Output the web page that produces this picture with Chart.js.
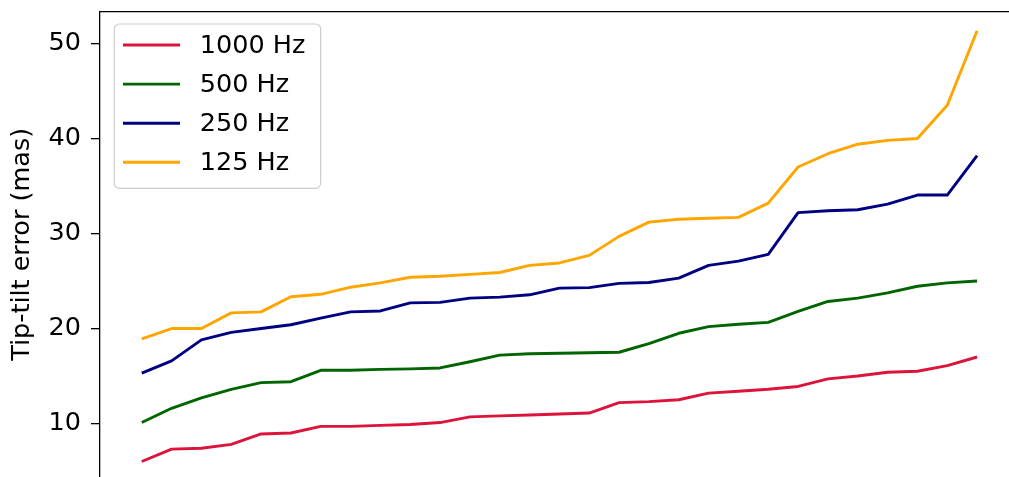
<!DOCTYPE html>
<html>
<head>
<meta charset="utf-8">
<script src="https://cdn.jsdelivr.net/npm/chart.js@4.4.0/dist/chart.umd.min.js"></script>
<style>
  html, body { margin: 0; padding: 0; background: #fff; overflow: hidden; }
  canvas { display: block; }
</style>
</head>
<body>
<canvas id="chart" width="1009" height="477"></canvas>
<script>
// Runs sorted by increasing tip-tilt error
const rank = [0, 1, 2, 3, 4, 5, 6, 7, 8, 9, 10, 11, 12, 13, 14, 15, 16, 17, 18, 19, 20, 21, 22, 23, 24, 25, 26, 27, 28];

const seriesLabels = ['1000 Hz', '500 Hz', '250 Hz', '125 Hz'];
const seriesColors = ['#dc143c', '#006400', '#000080', '#ffa500'];

// Tip-tilt error in mas for each loop rate
const err1000 = [6.0, 7.3, 7.4, 7.8, 8.9, 9.0, 9.7, 9.7, 9.8, 9.9, 10.1, 10.7, 10.8, 10.9, 11.0, 11.1, 12.2, 12.3, 12.5, 13.2, 13.4, 13.6, 13.9, 14.7, 15.0, 15.4, 15.5, 16.1, 17.0];
const err500  = [10.1, 11.6, 12.7, 13.6, 14.3, 14.4, 15.6, 15.6, 15.7, 15.75, 15.85, 16.5, 17.2, 17.35, 17.4, 17.45, 17.5, 18.4, 19.5, 20.2, 20.45, 20.65, 21.8, 22.85, 23.2, 23.75, 24.45, 24.8, 25.0];
const err250  = [15.3, 16.6, 18.8, 19.6, 20.0, 20.4, 21.1, 21.75, 21.85, 22.7, 22.75, 23.2, 23.3, 23.55, 24.25, 24.3, 24.75, 24.85, 25.3, 26.65, 27.1, 27.8, 32.2, 32.4, 32.5, 33.1, 34.05, 34.05, 38.2];
const err125  = [18.9, 20.0, 20.0, 21.65, 21.75, 23.35, 23.6, 24.35, 24.8, 25.4, 25.5, 25.7, 25.9, 26.65, 26.9, 27.7, 29.7, 31.2, 31.5, 31.6, 31.7, 33.2, 37.0, 38.4, 39.4, 39.8, 40.0, 43.5, 51.35];

const yTicks = [10, 20, 30, 40, 50];
const yTitle = 'Tip-tilt error (mas)';

const FONT = '"DejaVu Sans", "Liberation Sans", sans-serif';
const FONT_SIZE = 25.5;

const toPoints = (vals) => vals.map((v, i) => ({ x: rank[i], y: v }));
const allSeries = [err1000, err500, err250, err125];

// Legend box in the upper-left corner of the plot, plus the top frame line
const framedLegend = {
  id: 'framedLegend',
  afterDatasetsDraw(chart) {
    const { ctx, chartArea: a } = chart;
    ctx.save();
    // top spine
    ctx.beginPath();
    ctx.moveTo(a.left, a.top);
    ctx.lineTo(a.right, a.top);
    ctx.strokeStyle = '#000';
    ctx.lineWidth = 1.3;
    ctx.stroke();

    const x0 = a.left + 14.3, y0 = a.top + 12.3, w = 206.4, h = 164.3;
    ctx.beginPath();
    ctx.roundRect(x0, y0, w, h, 5);
    ctx.fillStyle = 'rgba(255,255,255,0.8)';
    ctx.fill();
    ctx.strokeStyle = '#cccccc';
    ctx.lineWidth = 1.2;
    ctx.stroke();

    ctx.font = FONT_SIZE + 'px ' + FONT;
    ctx.textBaseline = 'middle';
    ctx.textAlign = 'left';
    chart.data.datasets.forEach((ds, i) => {
      const y = y0 + 21 + i * 39.1;
      ctx.beginPath();
      ctx.moveTo(x0 + 8.7, y);
      ctx.lineTo(x0 + 65.7, y);
      ctx.strokeStyle = ds.borderColor;
      ctx.lineWidth = ds.borderWidth;
      ctx.lineCap = 'butt';
      ctx.stroke();
      ctx.fillStyle = '#000';
      ctx.fillText(ds.label, x0 + 85.5, y + 1);
    });
    ctx.restore();
  }
};

new Chart(document.getElementById('chart'), {
  type: 'line',
  data: {
    datasets: allSeries.map((vals, i) => ({
      label: seriesLabels[i],
      data: toPoints(vals),
      borderColor: seriesColors[i],
      backgroundColor: seriesColors[i],
      borderWidth: 2.9,
      borderJoinStyle: 'round',
      pointRadius: 0,
      tension: 0,
      fill: false
    }))
  },
  options: {
    responsive: false,
    animation: false,
    layout: { padding: { top: 11.7, right: 0, bottom: 0, left: 0 } },
    plugins: {
      legend: { display: false },
      tooltip: { enabled: false }
    },
    scales: {
      x: {
        type: 'linear',
        display: false,
        min: -1.4,
        max: 29.07
      },
      y: {
        type: 'linear',
        min: 4.37,
        max: 53.35,
        afterFit(scale) {
          scale.width = 100;
          scale.paddingTop = 0;
          scale.paddingBottom = 0;
        },
        afterBuildTicks(scale) { scale.ticks = yTicks.map(v => ({ value: v })); },
        border: { display: true, color: '#000', width: 1.3 },
        grid: {
          display: true,
          drawOnChartArea: false,
          drawTicks: true,
          tickLength: 9,
          color: '#000',
          lineWidth: 1.3
        },
        ticks: {
          padding: 10,
          color: '#000',
          font: { family: FONT, size: FONT_SIZE }
        },
        title: {
          display: true,
          text: yTitle,
          color: '#000',
          padding: { top: 7, bottom: 0 },
          font: { family: FONT, size: FONT_SIZE }
        }
      }
    }
  },
  plugins: [framedLegend]
});
</script>
</body>
</html>
